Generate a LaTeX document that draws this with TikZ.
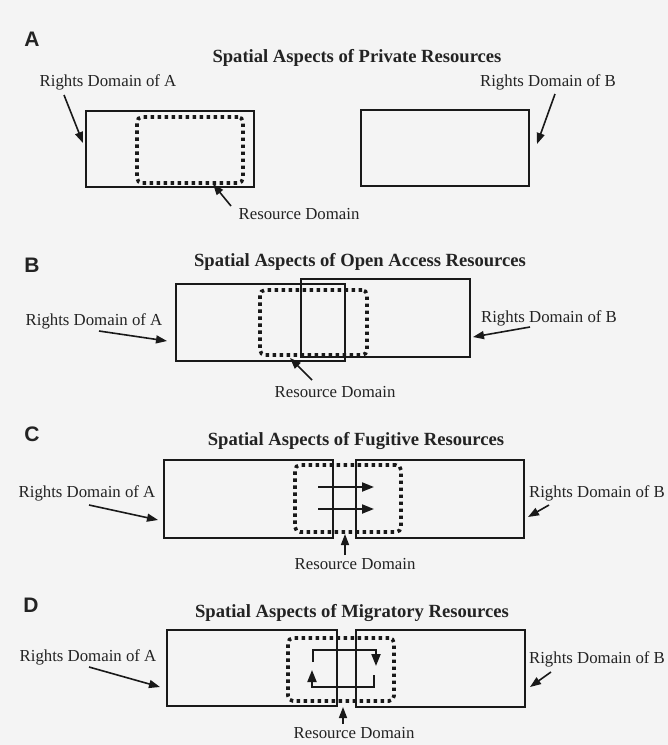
\documentclass[tikz,border=0pt]{standalone}
\usepackage{fontspec}
\setmainfont{Liberation Serif}
\newfontfamily\lettfont{Liberation Sans}
\usetikzlibrary{arrows.meta,fit}
\definecolor{linec}{RGB}{25,25,25}
\definecolor{txtc}{RGB}{35,35,35}
\definecolor{bgc}{RGB}{244,244,244}
\begin{document}
\begin{tikzpicture}[x=1pt,y=-1pt,
  rbox/.style={draw=linec, line width=2pt, inner sep=0pt},
  dbox/.style={draw=linec, line width=3.6pt, dash pattern=on 3.4pt off 3.6pt, rounded corners=5pt, inner sep=0pt},
  lbl/.style={font=\fontsize{16.8}{18}\selectfont, text=txtc, inner sep=0pt},
  ttl/.style={font=\bfseries\fontsize{18.6}{20}\selectfont, text=txtc, inner sep=0pt},
  lett/.style={font=\lettfont\bfseries\fontsize{21}{22}\selectfont, text=txtc, inner sep=0pt},
  arr/.style={draw=linec, line width=1.6pt, -{Triangle[length=11pt,width=8pt]}},
  flow/.style={draw=linec, line width=2pt, -{Triangle[length=12pt,width=9pt]}},
]
\fill[bgc] (0,0) rectangle (668,745);
\useasboundingbox (0,0) rectangle (668,745);

% ---------- Panel A ----------
\node[lett] (lettA) at (32,39) {A};
\node[ttl] (titleA) at (357,58) {Spatial Aspects of Private Resources};
\node[lbl] (lA1) at (108,82) {Rights Domain of A};
\node[lbl] (lB1) at (548,82) {Rights Domain of B};
\node[rbox, fit={(86,111) (254,187)}] (A1) {};
\node[dbox, fit={(137,117) (243,183)}] (R1) {};
\node[rbox, fit={(361,110) (529,186)}] (B1) {};
\node[lbl] (rd1) at (299,214) {Resource Domain};
\coordinate (sA1) at (64,95);  \coordinate (tA1) at (83,143);
\coordinate (sB1) at (555,94); \coordinate (tB1) at (537,144);
\coordinate (sR1) at (231,206); \coordinate (tR1) at (213,184);
\draw[arr] (sA1) -- (tA1);
\draw[arr] (sB1) -- (tB1);
\draw[arr] (sR1) -- (tR1);

% ---------- Panel B ----------
\node[lett] (lettB) at (32,265) {B};
\node[ttl] (titleB) at (360,262) {Spatial Aspects of Open Access Resources};
\node[rbox, fit={(176,284) (345,361)}] (A2) {};
\node[rbox, fit={(301,279) (470,357)}] (B2) {};
\node[dbox, fit={(260,290) (367,355)}] (R2) {};
\node[lbl] (lA2) at (94,321) {Rights Domain of A};
\node[lbl] (lB2) at (549,318) {Rights Domain of B};
\node[lbl] (rd2) at (335,392) {Resource Domain};
\coordinate (sA2) at (99,331);  \coordinate (tA2) at (167,341);
\coordinate (sB2) at (530,327); \coordinate (tB2) at (473,337);
\coordinate (sR2) at (312,380); \coordinate (tR2) at (290,358);
\draw[arr] (sA2) -- (tA2);
\draw[arr] (sB2) -- (tB2);
\draw[arr] (sR2) -- (tR2);

% ---------- Panel C ----------
\node[lett] (lettC) at (32,434) {C};
\node[ttl] (titleC) at (356,441) {Spatial Aspects of Fugitive Resources};
\node[rbox, fit={(164,460) (333,538)}] (A3) {};
\node[rbox, fit={(356,460) (524,538)}] (B3) {};
\node[dbox, fit={(295,465) (401,532)}] (R3) {};
\node[lbl] (lA3) at (87,493) {Rights Domain of A};
\node[lbl] (lB3) at (597,493) {Rights Domain of B};
\node[lbl] (rd3) at (355,564) {Resource Domain};
\coordinate (f1s) at (318,487); \coordinate (f1e) at (374,487);
\coordinate (f2s) at (318,509); \coordinate (f2e) at (374,509);
\draw[flow] (f1s) -- (f1e);
\draw[flow] (f2s) -- (f2e);
\coordinate (sA3) at (89,505);  \coordinate (tA3) at (158,520);
\coordinate (sB3) at (549,505); \coordinate (tB3) at (528,517);
\coordinate (sR3) at (345,555); \coordinate (tR3) at (345,534);
\draw[arr] (sA3) -- (tA3);
\draw[arr] (sB3) -- (tB3);
\draw[arr] (sR3) -- (tR3);

% ---------- Panel D ----------
\node[lett] (lettD) at (31,605) {D};
\node[ttl] (titleD) at (352,613) {Spatial Aspects of Migratory Resources};
\node[rbox, fit={(167,630) (337,706)}] (A4) {};
\node[rbox, fit={(356,630) (525,707)}] (B4) {};
\node[dbox, fit={(288,638) (394,701)}] (R4) {};
\node[lbl] (lA4) at (88,657) {Rights Domain of A};
\node[lbl] (lB4) at (597,659) {Rights Domain of B};
\node[lbl] (rd4) at (354,733) {Resource Domain};
\coordinate (m1a) at (313,662); \coordinate (m1b) at (313,650);
\coordinate (m1c) at (376,650); \coordinate (m1d) at (376,666);
\coordinate (m2a) at (374,675); \coordinate (m2b) at (374,687);
\coordinate (m2c) at (312,687); \coordinate (m2d) at (312,670);
\draw[flow] (m1a) -- (m1b) -- (m1c) -- (m1d);
\draw[flow] (m2a) -- (m2b) -- (m2c) -- (m2d);
\coordinate (sA4) at (89,667);  \coordinate (tA4) at (160,687);
\coordinate (sB4) at (551,672); \coordinate (tB4) at (530,687);
\coordinate (sR4) at (343,724); \coordinate (tR4) at (343,707);
\draw[arr] (sA4) -- (tA4);
\draw[arr] (sB4) -- (tB4);
\draw[arr] (sR4) -- (tR4);
\end{tikzpicture}
\end{document}
